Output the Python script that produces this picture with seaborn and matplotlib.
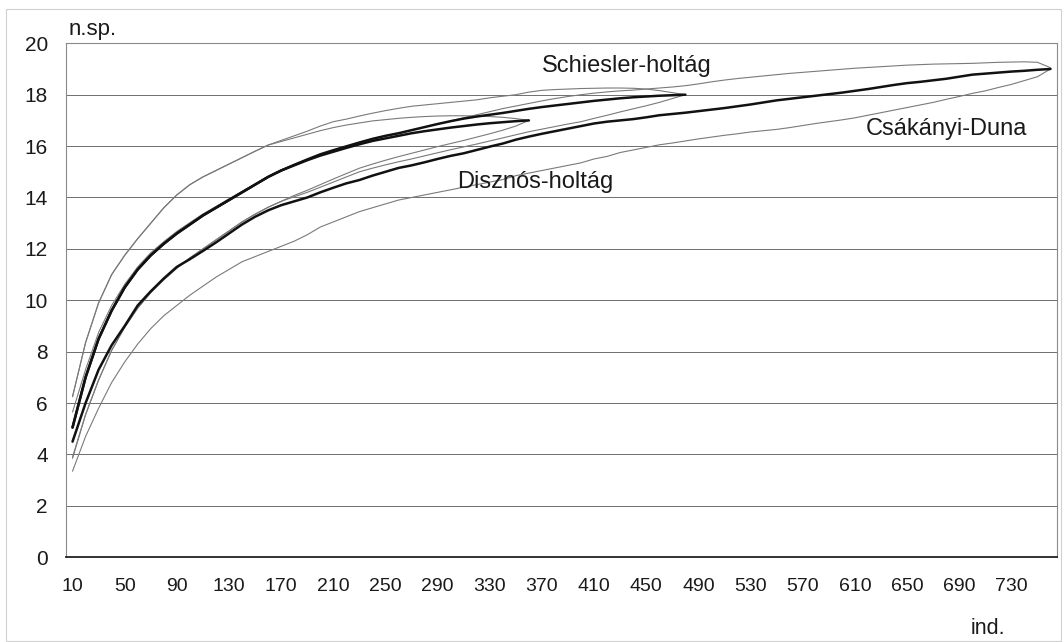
import matplotlib
matplotlib.use("Agg")
import matplotlib.pyplot as plt
from matplotlib.patches import Rectangle
import seaborn as sns
import pandas as pd

# sample size axis (individuals), one category every 10 individuals
individuals = list(range(10, 770, 10))
tick_labels = [str(v) for v in range(10, 770, 40)]
y_ticks = [0, 2, 4, 6, 8, 10, 12, 14, 16, 18, 20]

# expected number of species (rarefaction means)
disznos = [5.05, 7.0, 8.5, 9.6, 10.5, 11.2, 11.75, 12.2, 12.6, 12.95, 13.3, 13.6,
           13.9, 14.2, 14.5, 14.8, 15.05, 15.25, 15.45, 15.63, 15.78, 15.93, 16.07,
           16.2, 16.3, 16.4, 16.5, 16.58, 16.65, 16.72, 16.78, 16.84, 16.89, 16.93,
           16.97, 17.0]
schiesler = [5.05, 7.0, 8.5, 9.6, 10.5, 11.2, 11.75, 12.2, 12.6, 12.95, 13.3, 13.6,
             13.9, 14.2, 14.5, 14.8, 15.05, 15.27, 15.48, 15.68, 15.84, 15.99, 16.14,
             16.28, 16.4, 16.5, 16.62, 16.74, 16.86, 16.97, 17.07, 17.15, 17.22, 17.29,
             17.37, 17.45, 17.52, 17.58, 17.64, 17.7, 17.76, 17.81, 17.86, 17.9, 17.93,
             17.96, 17.98, 18.0]
csakanyi = [4.5, 6.0, 7.3, 8.25, 9.0, 9.8, 10.35, 10.85, 11.3, 11.6, 11.92, 12.25,
            12.6, 12.95, 13.25, 13.5, 13.7, 13.85, 14.0, 14.2, 14.38, 14.55, 14.68,
            14.85, 15.0, 15.15, 15.25, 15.37, 15.5, 15.62, 15.72, 15.85, 15.98, 16.1,
            16.25, 16.37, 16.48, 16.58, 16.68, 16.78, 16.88, 16.95, 17.0, 17.05, 17.12,
            17.2, 17.25, 17.3, 17.36, 17.42, 17.48, 17.55, 17.62, 17.7, 17.78, 17.84,
            17.9, 17.96, 18.02, 18.08, 18.15, 18.22, 18.3, 18.38, 18.45, 18.5, 18.56,
            18.62, 18.7, 18.78, 18.82, 18.86, 18.9, 18.93, 18.97, 19.0]

# confidence limits
disznos_upper = [6.25, 8.35, 9.9, 11.0, 11.75, 12.4, 13.0, 13.6, 14.1, 14.5, 14.8,
                 15.05, 15.3, 15.55, 15.8, 16.04, 16.18, 16.32, 16.46, 16.6, 16.72,
                 16.82, 16.9, 16.98, 17.03, 17.08, 17.12, 17.15, 17.17, 17.18, 17.18,
                 17.17, 17.15, 17.12, 17.07, 17.0]
disznos_lower = [3.9, 5.55, 6.9, 8.05, 8.95, 9.7, 10.3, 10.8, 11.25, 11.65, 12.0,
                 12.35, 12.7, 13.05, 13.35, 13.62, 13.85, 14.08, 14.28, 14.5, 14.72,
                 14.93, 15.14, 15.3, 15.45, 15.59, 15.72, 15.85, 15.98, 16.1, 16.22,
                 16.35, 16.48, 16.62, 16.78, 17.0]
schiesler_upper = [6.25, 8.35, 9.9, 11.0, 11.75, 12.4, 13.0, 13.6, 14.1, 14.5, 14.8,
                   15.05, 15.3, 15.55, 15.8, 16.04, 16.22, 16.4, 16.58, 16.78, 16.95,
                   17.05, 17.17, 17.28, 17.38, 17.47, 17.55, 17.6, 17.65, 17.7, 17.75,
                   17.8, 17.88, 17.94, 18.0, 18.1, 18.17, 18.2, 18.22, 18.24, 18.25,
                   18.26, 18.26, 18.25, 18.22, 18.16, 18.08, 18.0]
schiesler_lower = [3.85, 5.55, 6.9, 8.05, 8.95, 9.7, 10.3, 10.8, 11.25, 11.65, 12.0,
                   12.35, 12.7, 13.05, 13.35, 13.62, 13.85, 14.03, 14.2, 14.4, 14.6,
                   14.8, 15.0, 15.14, 15.27, 15.39, 15.5, 15.62, 15.74, 15.86, 15.97,
                   16.08, 16.2, 16.32, 16.44, 16.56, 16.66, 16.76, 16.86, 16.95, 17.08,
                   17.2, 17.33, 17.45, 17.57, 17.7, 17.85, 18.0]
csakanyi_upper = [5.65, 7.3, 8.75, 9.8, 10.62, 11.3, 11.85, 12.28, 12.68, 13.02, 13.36,
                  13.65, 13.95, 14.24, 14.53, 14.82, 15.07, 15.28, 15.48, 15.68, 15.84,
                  15.99, 16.14, 16.29, 16.4, 16.5, 16.62, 16.74, 16.86, 16.98, 17.1,
                  17.22, 17.34, 17.46, 17.56, 17.66, 17.76, 17.85, 17.93, 18.0, 18.06,
                  18.11, 18.15, 18.18, 18.22, 18.26, 18.3, 18.35, 18.42, 18.5, 18.57,
                  18.63, 18.68, 18.73, 18.78, 18.83, 18.87, 18.91, 18.95, 18.99, 19.03,
                  19.06, 19.09, 19.12, 19.15, 19.17, 19.19, 19.2, 19.21, 19.22, 19.24,
                  19.26, 19.27, 19.28, 19.26, 19.05]
csakanyi_lower = [3.35, 4.7, 5.8, 6.8, 7.6, 8.3, 8.9, 9.4, 9.8, 10.2, 10.55, 10.9,
                  11.2, 11.5, 11.7, 11.9, 12.1, 12.3, 12.55, 12.85, 13.05, 13.25, 13.45,
                  13.6, 13.75, 13.9, 14.0, 14.1, 14.2, 14.3, 14.4, 14.5, 14.6, 14.7,
                  14.85, 14.95, 15.05, 15.15, 15.25, 15.35, 15.5, 15.6, 15.75, 15.85,
                  15.95, 16.05, 16.12, 16.2, 16.28, 16.35, 16.42, 16.48, 16.55, 16.6,
                  16.65, 16.72, 16.8, 16.88, 16.95, 17.02, 17.1, 17.2, 17.3, 17.4, 17.5,
                  17.6, 17.7, 17.82, 17.93, 18.05, 18.15, 18.28, 18.4, 18.55, 18.7, 19.0]

sns.set_style("white")
plt.rcParams["font.family"] = ["Liberation Sans", "DejaVu Sans"]

W, H = 1064, 642
fig = plt.figure(figsize=(W / 100, H / 100), dpi=100)
left, right, top, bottom = 66, 1057, 43.3, 557.3
ax = fig.add_axes([left / W, 1 - bottom / H, (right - left) / W, (bottom - top) / H])


def frame(values, name):
    return pd.DataFrame({"ind": individuals[:len(values)], "n.sp.": values, "curve": name})


thin = [(disznos_upper, "du"), (disznos_lower, "dl"), (schiesler_upper, "su"),
        (schiesler_lower, "sl"), (csakanyi_upper, "cu"), (csakanyi_lower, "cl")]
for vals, nm in thin:
    sns.lineplot(data=frame(vals, nm), x="ind", y="n.sp.", ax=ax, color="#7a7a7a",
                 linewidth=0.8, legend=False, zorder=3)

for vals, nm in [(disznos, "Disznós-holtág"), (schiesler, "Schiesler-holtág"),
                 (csakanyi, "Csákányi-Duna")]:
    sns.lineplot(data=frame(vals, nm), x="ind", y="n.sp.", ax=ax, color="#111111",
                 linewidth=1.8, legend=False, zorder=4)

ax.set_xlim(5, 765)
ax.set_ylim(0, 20)
ax.set_xlabel("")
ax.set_ylabel("")

# horizontal gridlines
ax.set_yticks(y_ticks)
ax.yaxis.grid(True, color="#6e6e6e", linewidth=0.7, zorder=1)
ax.xaxis.grid(False)
ax.set_axisbelow(True)

# category ticks: labels every 40, marks between every category
ax.set_xticks([int(t) for t in tick_labels])
ax.set_xticklabels(tick_labels)
ax.set_xticks([v - 5 for v in individuals] + [765], minor=True)
ax.tick_params(axis="x", which="major", length=0, pad=15, labelsize=14)
ax.tick_params(axis="x", which="minor", length=5, width=0.6, color="#777777", direction="out")
ax.tick_params(axis="y", which="major", length=5, width=0.6, color="#555555",
               labelsize=15, pad=8)
for lbl in ax.get_xticklabels() + ax.get_yticklabels():
    lbl.set_color("#1a1a1a")

for side in ["left", "top", "right"]:
    ax.spines[side].set_visible(True)
    ax.spines[side].set_color("#8a8a8a")
    ax.spines[side].set_linewidth(0.8)
    ax.spines[side].set_linestyle((0, (1, 1)))
ax.spines["bottom"].set_color("#222222")
ax.spines["bottom"].set_linewidth(1.3)
ax.spines["bottom"].set_zorder(5)


def px_text(x, y, s, size, ha="center", va="baseline"):
    fig.text(x / W, 1 - y / H, s, fontsize=size, color="#1a1a1a", ha=ha, va=va, zorder=6)


# axis captions
px_text(69, 35, "n.sp.", 16, ha="left")
px_text(988, 628, "ind.", 15.5, va="center")

# curve names
px_text(627, 72, "Schiesler-holtág", 17)
px_text(535, 188, "Disznós-holtág", 17)
px_text(946, 135, "Csákányi-Duna", 17)

# outer chart border
fig.patches.append(Rectangle((6 / W, 1 / H), 1055 / W, 632 / H, transform=fig.transFigure,
                             fill=False, edgecolor="#d0d0d0", linewidth=0.8))

fig.savefig("out.png", dpi=100, facecolor="white")
